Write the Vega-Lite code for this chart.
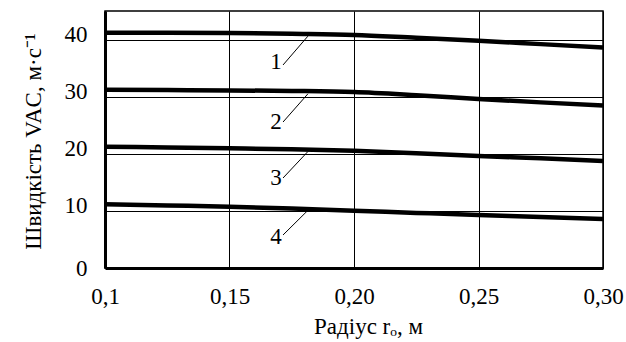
{
  "$schema": "https://vega.github.io/schema/vega-lite/v6.json",
  "width": 498,
  "height": 257,
  "autosize": {"type": "none"},
  "padding": {"left": 105, "top": 11, "right": 23, "bottom": 74},
  "background": "white",
  "config": {
    "view": {"stroke": "black", "strokeWidth": 1.5},
    "font": "Liberation Serif"
  },
  "datasets": {
    "curves": [
      {"curve": "1", "r": 0.10, "v": 41.2},
      {"curve": "1", "r": 0.125, "v": 41.2},
      {"curve": "1", "r": 0.15, "v": 41.15},
      {"curve": "1", "r": 0.175, "v": 41.0},
      {"curve": "1", "r": 0.20, "v": 40.8},
      {"curve": "1", "r": 0.225, "v": 40.3},
      {"curve": "1", "r": 0.25, "v": 39.8},
      {"curve": "1", "r": 0.275, "v": 39.2},
      {"curve": "1", "r": 0.30, "v": 38.6},
      {"curve": "2", "r": 0.10, "v": 31.2},
      {"curve": "2", "r": 0.125, "v": 31.15},
      {"curve": "2", "r": 0.15, "v": 31.1},
      {"curve": "2", "r": 0.175, "v": 31.0},
      {"curve": "2", "r": 0.20, "v": 30.8},
      {"curve": "2", "r": 0.225, "v": 30.25},
      {"curve": "2", "r": 0.25, "v": 29.6},
      {"curve": "2", "r": 0.275, "v": 29.0},
      {"curve": "2", "r": 0.30, "v": 28.45},
      {"curve": "3", "r": 0.10, "v": 21.24},
      {"curve": "3", "r": 0.125, "v": 21.1},
      {"curve": "3", "r": 0.15, "v": 20.96},
      {"curve": "3", "r": 0.175, "v": 20.8},
      {"curve": "3", "r": 0.20, "v": 20.54},
      {"curve": "3", "r": 0.225, "v": 20.1},
      {"curve": "3", "r": 0.25, "v": 19.61},
      {"curve": "3", "r": 0.275, "v": 19.2},
      {"curve": "3", "r": 0.30, "v": 18.74},
      {"curve": "4", "r": 0.10, "v": 11.17},
      {"curve": "4", "r": 0.125, "v": 10.95},
      {"curve": "4", "r": 0.15, "v": 10.73},
      {"curve": "4", "r": 0.175, "v": 10.4},
      {"curve": "4", "r": 0.20, "v": 10.03},
      {"curve": "4", "r": 0.225, "v": 9.65},
      {"curve": "4", "r": 0.25, "v": 9.28},
      {"curve": "4", "r": 0.275, "v": 8.95},
      {"curve": "4", "r": 0.30, "v": 8.58}
    ],
    "leaders": [
      {"curve": "1", "x1": 0.1715, "y1": 35.55, "x2": 0.1815, "y2": 40.6},
      {"curve": "2", "x1": 0.1715, "y1": 25.56, "x2": 0.1815, "y2": 30.5},
      {"curve": "3", "x1": 0.1715, "y1": 15.76, "x2": 0.1815, "y2": 20.4},
      {"curve": "4", "x1": 0.1715, "y1": 5.78, "x2": 0.1815, "y2": 10.1}
    ],
    "labels": [
      {"label": "1", "x": 0.1687, "y": 36.07},
      {"label": "2", "x": 0.1687, "y": 25.62},
      {"label": "3", "x": 0.1687, "y": 15.76},
      {"label": "4", "x": 0.1687, "y": 5.43}
    ]
  },
  "layer": [
    {
      "data": {"name": "curves"},
      "mark": {"type": "line", "color": "black", "strokeWidth": 4.5, "interpolate": "monotone"},
      "encoding": {
        "x": {
          "field": "r",
          "type": "quantitative",
          "scale": {"domain": [0.1, 0.3], "nice": false, "zero": false},
          "axis": {
            "values": [0.1, 0.15, 0.2, 0.25, 0.3],
            "labelExpr": "datum.value < 0.11 ? '0,1' : replace(format(datum.value, '.2f'), '.', ',')",
            "grid": true,
            "gridColor": "#000000",
            "gridWidth": 1,
            "domainColor": "black",
            "domainWidth": 3,
            "ticks": false,
            "tickSize": 0,
            "labelFont": "Liberation Serif",
            "labelFontSize": 23,
            "labelColor": "black",
            "labelPadding": 17,
            "labelFlush": false,
            "labelOverlap": false,
            "labelBound": false,
            "title": "Радіус rₒ, м",
            "titleFont": "Liberation Serif",
            "titleFontSize": 23,
            "titleFontWeight": "normal",
            "titleColor": "black",
            "titleX": 263,
            "titleY": 65,
            "titleBaseline": "alphabetic"
          }
        },
        "y": {
          "field": "v",
          "type": "quantitative",
          "scale": {"domain": [0, 45], "nice": false},
          "axis": {
            "values": [0, 10, 20, 30, 40],
            "grid": true,
            "gridColor": "#000000",
            "gridWidth": 1,
            "domainColor": "black",
            "domainWidth": 3,
            "ticks": false,
            "tickSize": 0,
            "labelFont": "Liberation Serif",
            "labelFontSize": 23,
            "labelColor": "black",
            "labelPadding": 18,
            "labelOverlap": false,
            "labelBound": false,
            "labelFlush": false,
            "labelOffset": {"condition": {"test": "datum.value === 0", "value": 0}, "value": -5},
            "title": "Швидкість VAC, м·с⁻¹",
            "titleFont": "Liberation Serif",
            "titleFontSize": 23,
            "titleFontWeight": "normal",
            "titleColor": "black",
            "titleX": -65,
            "titleY": 130,
            "titleAngle": 270,
            "titleBaseline": "alphabetic"
          }
        },
        "detail": {"field": "curve"}
      }
    },
    {
      "data": {"name": "leaders"},
      "mark": {"type": "rule", "color": "black", "strokeWidth": 1},
      "encoding": {
        "x": {"field": "x1", "type": "quantitative"},
        "y": {"field": "y1", "type": "quantitative"},
        "x2": {"field": "x2"},
        "y2": {"field": "y2"}
      }
    },
    {
      "data": {"name": "labels"},
      "mark": {"type": "text", "font": "Liberation Serif", "fontSize": 23, "baseline": "middle", "align": "center", "color": "black"},
      "encoding": {
        "x": {"field": "x", "type": "quantitative"},
        "y": {"field": "y", "type": "quantitative"},
        "text": {"field": "label"}
      }
    }
  ]
}
